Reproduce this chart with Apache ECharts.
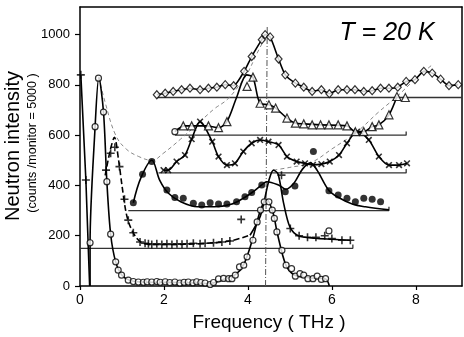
<!DOCTYPE html>
<html><head><meta charset="utf-8">
<script src="https://cdn.jsdelivr.net/npm/echarts@6/dist/echarts.min.js"></script>
<style>html,body{margin:0;padding:0;background:#fff}#c{width:464px;height:337px}</style>
</head><body><div id="c"></div>
<script>
// ---- tick labels ----
const xTicks = [0, 2, 4, 6, 8];
const yTicks = [0, 200, 400, 600, 800, 1000];

// ---- curve A: open circles, baseline 0 ----
const pointsA = [[0.24,172],[0.36,634],[0.44,827],[0.56,692],[0.64,415],[0.73,206],[0.85,96],[0.91,63],[0.99,43],[1.15,23],[1.27,18],[1.39,16],[1.51,15],[1.60,17],[1.71,16],[1.83,18],[1.91,15],[2.03,17],[2.14,14],[2.26,16],[2.38,12],[2.48,15],[2.58,16],[2.69,13],[2.78,17],[2.88,14],[2.98,12],[3.10,6],[3.18,14],[3.30,28],[3.42,30],[3.54,29],[3.62,29],[3.70,43],[3.80,76],[3.90,83],[3.98,116],[4.12,182],[4.22,255],[4.30,302],[4.39,335],[4.50,335],[4.58,302],[4.63,269],[4.69,215],[4.81,142],[4.91,83],[5.04,69],[5.13,39],[5.24,49],[5.33,43],[5.43,29],[5.55,29],[5.65,39],[5.75,26],[5.85,29],[5.93,219]];
const lineA = [[0.24,0],[0.24,172],[0.36,634],[0.45,830],[0.56,692],[0.64,415],[0.73,206],[0.85,96],[1.0,43],[1.2,22],[1.6,15],[2.5,14],[3.1,10],[3.4,25],[3.7,45],[3.9,85],[4.1,180],[4.3,302],[4.45,345],[4.6,290],[4.7,210],[4.9,85],[5.1,45],[5.5,32],[5.85,28],[5.94,0]];

// ---- curve B: plus, baseline 150 ----
const pointsB = [[0.02,840],[0.14,422],[0.62,461],[0.73,528],[0.83,552],[0.94,475],[1.06,345],[1.15,262],[1.27,212],[1.43,175],[1.55,170],[1.63,168],[1.71,165],[1.83,168],[1.95,165],[2.07,168],[2.19,165],[2.31,168],[2.43,166],[2.55,168],[2.70,170],[2.86,168],[2.98,170],[3.18,172],[3.38,175],[3.57,179],[3.84,265],[4.80,441],[5.01,229],[5.22,200],[5.42,194],[5.62,194],[5.83,200],[6.0,189],[6.24,182],[6.44,182]];
const lineB1 = [[0.02,840],[0.14,422],[0.23,0]];
const lineB2 = [[0.6,440],[0.72,540],[0.82,592],[0.92,500],[1.0,400],[1.1,290],[1.2,235],[1.35,190],[1.5,170],[1.8,165],[2.5,166],[3.2,172],[3.6,180],[4.05,202]];
const lineB3 = [[4.05,202],[4.3,280],[4.5,420],[4.61,461],[4.72,445],[4.85,330],[5.0,235],[5.2,200],[5.6,190],[6.0,186],[6.44,182]];

// ---- curve C: filled circles, baseline 300 ----
const pointsC = [[1.27,331],[1.49,445],[1.71,495],[2.07,382],[2.26,352],[2.46,349],[2.70,329],[2.90,322],[3.10,331],[3.30,326],[3.50,326],[3.73,335],[3.93,355],[4.09,372],[4.33,402],[4.89,375],[5.12,398],[5.56,535],[5.93,379],[6.15,362],[6.36,349],[6.56,335],[6.76,349],[6.96,345],[7.16,335]];
const lineC = [[1.27,331],[1.45,430],[1.71,500],[1.9,420],[2.1,370],[2.4,335],[2.8,315],[3.2,315],[3.6,325],[3.9,350],[4.1,372],[4.33,402],[4.45,415],[4.75,400],[4.9,385],[5.1,410],[5.3,465],[5.49,490],[5.65,460],[5.93,380],[6.16,352],[6.5,325],[6.8,315],[7.36,303]];

// ---- curve D: crosses, baseline 450 ----
const pointsD = [[1.99,461],[2.10,461],[2.30,495],[2.50,521],[2.66,584],[2.86,654],[3.15,574],[3.30,515],[3.50,481],[3.69,488],[3.89,535],[4.09,568],[4.29,581],[4.49,574],[4.73,561],[4.93,515],[5.16,495],[5.36,488],[5.55,482],[5.75,485],[5.95,495],[6.17,521],[6.36,568],[6.60,614],[6.88,581],[7.12,515],[7.36,481],[7.60,481],[7.79,488]];

// ---- curve F: triangles, baseline 600 ----
const startF = [[2.26,614]];
const pointsF = [[2.46,637],[2.66,637],[3.06,637],[3.30,630],[3.50,654],[3.98,794],[4.12,831],[4.29,727],[4.50,721],[4.66,708],[4.93,668],[5.13,648],[5.33,645],[5.53,641],[5.73,641],[5.93,641],[6.15,641],[6.36,637],[6.56,614],[6.76,614],[6.96,634],[7.12,641],[7.36,681],[7.55,754],[7.75,750]];
const lineF = [[2.26,614],[2.5,637],[3.0,637],[3.3,630],[3.5,654],[3.73,750],[3.97,840],[4.12,830],[4.29,727],[4.50,721],[4.66,708],[4.93,668],[5.13,648],[5.33,645],[5.73,641],[6.36,637],[6.56,614],[6.76,614],[6.96,634],[7.12,641],[7.36,681],[7.55,754]];

// ---- curve G: diamonds, baseline 750 ----
const pointsG = [[1.83,761],[2.03,767],[2.22,774],[2.42,781],[2.62,787],[2.86,781],[3.06,787],[3.26,791],[3.46,801],[3.66,797],[3.91,854],[4.09,913],[4.33,980],[4.41,1000],[4.53,991],[4.73,903],[4.89,840],[5.13,807],[5.33,791],[5.53,774],[5.75,781],[5.94,765],[6.15,781],[6.36,781],[6.55,781],[6.76,774],[6.96,777],[7.16,787],[7.36,787],[7.57,791],[7.77,814],[7.98,821],[8.19,854],[8.39,847],[8.59,823],[8.79,797],[9.01,801]];

// ---- baselines ----
const base150 = [[0,150],[6.5,150],[6.5,165]];
const base300 = [[1.15,300],[7.36,300],[7.36,315]];
const base450 = [[1.87,450],[7.77,450],[7.77,465]];
const base600 = [[2.26,600],[7.77,600],[7.77,615]];
const base750 = [[1.83,750],[9.1,750]];

// ---- dispersion guides ----
const guideLow = [[0.45,830],[0.6,730],[0.85,600],[1.1,545],[1.4,515],[1.71,500],[2.0,530],[2.4,585],[2.86,654],[3.2,705],[3.5,741],[3.8,800],[4.0,850],[4.2,920],[4.45,1000]];
const guideHigh = [[4.61,461],[5.0,472],[5.49,490],[6.0,545],[6.6,614],[7.1,690],[7.55,754],[8.0,825],[8.39,880]];
const guideVert = [[4.42,0],[4.46,1035]];

const plusPath = 'path://M4,0 h2 v4 h4 v2 h-4 v4 h-2 v-4 h-4 v-2 h4 z';
const FONT = 'Liberation Sans, Arial, sans-serif';

function ln(data, opt) {
  opt = opt || {};
  return {type:'line', data: data, showSymbol:false, silent:true, smooth: opt.smooth || 0,
    lineStyle:{color: opt.color || '#000', width: opt.width || 1.6, type: opt.type || 'solid'},
    z: opt.z || 2};
}
function pts(data, symbol, size, style, rot) {
  return {type:'scatter', data: data, symbol: symbol, symbolSize: size, symbolRotate: rot || 0,
    itemStyle: style, z: 5, silent:true};
}
const openStyle = {color:'#fff', borderColor:'#000', borderWidth:1.2};
const fillStyle = {color:'#000'};
const frameAxis = {show:true, axisLine:{show:true, onZero:false, lineStyle:{color:'#000', width:1.5}},
  axisTick:{show:false}, axisLabel:{show:false}, splitLine:{show:false}};

const chart = echarts.init(document.getElementById('c'), null, {renderer:'canvas'});
chart.setOption({
  animation:false,
  grid:{left:80, right:2, top:7, bottom:51},
  xAxis:[{type:'value', min:0, max:9.1, interval:2,
    axisLine:{onZero:false, lineStyle:{color:'#000', width:1.5}},
    axisTick:{length:4, lineStyle:{color:'#000', width:1.2}, customValues:xTicks},
    axisLabel:{color:'#000', fontSize:14, fontFamily:FONT, margin:7, customValues:xTicks, formatter: v => String(v)},
    splitLine:{show:false}},
    Object.assign({type:'value', min:0, max:9.1, position:'top'}, frameAxis)],
  yAxis:[{type:'value', min:0, max:1110, interval:200,
    axisLine:{show:true, onZero:false, lineStyle:{color:'#000', width:1.5}},
    axisTick:{show:true, length:5, lineStyle:{color:'#000', width:1.2}, customValues:yTicks},
    axisLabel:{color:'#000', fontSize:13, fontFamily:FONT, margin:10, customValues:yTicks, formatter: v => String(v)},
    splitLine:{show:false}},
    Object.assign({type:'value', min:0, max:1110, position:'right'}, frameAxis)],
  graphic:[
    {type:'text', x:387, y:33, style:{text:'T = 20 K', font:'italic 25px Liberation Sans, Arial, sans-serif', fill:'#000', align:'center', verticalAlign:'middle'}},
    {type:'text', x:269, y:323, style:{text:'Frequency ( THz )', font:'19px Liberation Sans, Arial, sans-serif', fill:'#000', align:'center', verticalAlign:'middle'}},
    {type:'text', x:13, y:146, rotation:Math.PI/2, style:{text:'Neutron intensity', font:'20px Liberation Sans, Arial, sans-serif', fill:'#000', align:'center', verticalAlign:'middle'}},
    {type:'text', x:33, y:143, rotation:Math.PI/2, style:{text:'(counts /monitor = 5000 )', font:'12.5px Liberation Sans, Arial, sans-serif', fill:'#000', align:'center', verticalAlign:'middle'}}
  ],
  series:[
    ln(base150,{color:'#333', width:1.3, z:1}),
    ln(base300,{color:'#333', width:1.3, z:1}),
    ln(base450,{color:'#333', width:1.3, z:1}),
    ln(base600,{color:'#333', width:1.3, z:1}),
    ln(base750,{color:'#333', width:1.3, z:1}),
    ln(guideLow,{color:'#888', width:1, type:[4,3], smooth:0.4, z:1}),
    ln(guideHigh,{color:'#888', width:1, type:[4,3], smooth:0.4, z:1}),
    ln(guideVert,{color:'#555', width:1, type:[6,2,1,2], z:1}),
    ln(lineA,{smooth:0.3}),
    ln(lineB1,{}),
    ln(lineB2,{type:[6,3], smooth:0.3}),
    ln(lineB3,{smooth:0.3}),
    ln(lineC,{smooth:0.35}),
    ln(pointsD,{smooth:0.3}),
    ln(lineF,{smooth:0.3}),
    ln(pointsG,{smooth:0.2}),
    pts(pointsA,'circle',6,openStyle),
    pts(pointsB,plusPath,8,fillStyle),
    pts(pointsC,'circle',7,fillStyle),
    pts(pointsD,plusPath,8,fillStyle,45),
    pts(startF,'circle',6,openStyle),
    pts(pointsF,'triangle',8,openStyle),
    pts(pointsG,'diamond',[7,8],openStyle)
  ]
});
</script></body></html>
